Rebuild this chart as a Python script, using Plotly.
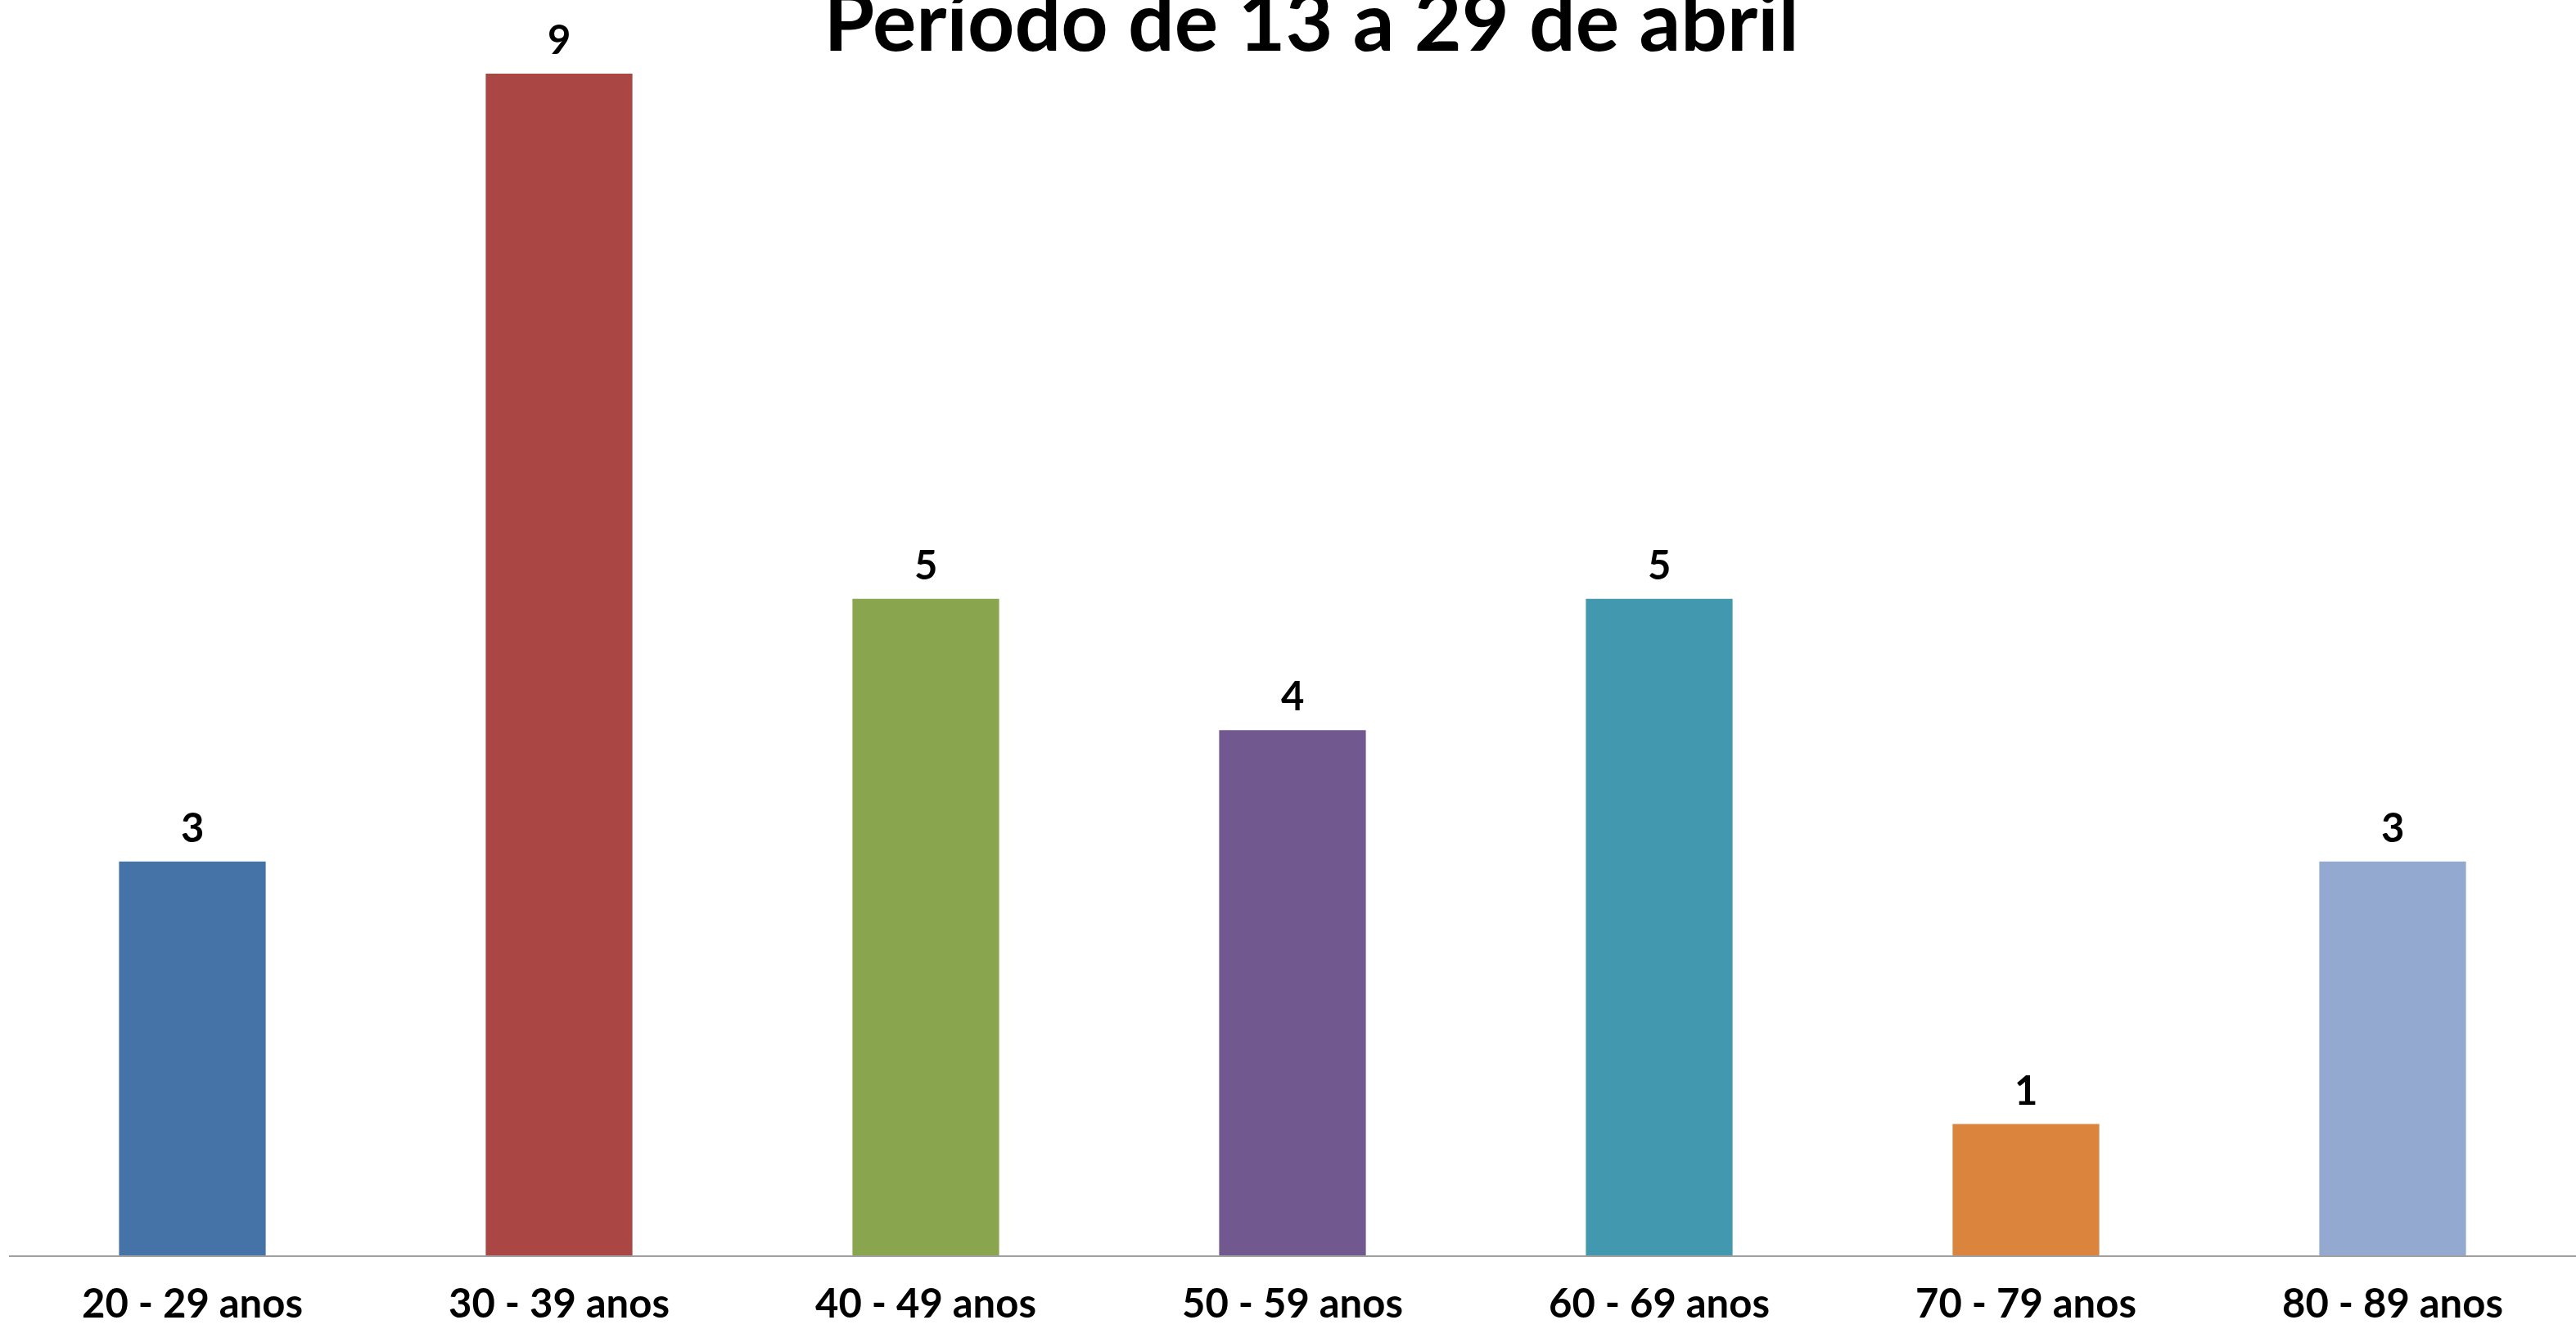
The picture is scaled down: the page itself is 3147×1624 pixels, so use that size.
import plotly.graph_objects as go

categories = ["20 - 29 anos", "30 - 39 anos", "40 - 49 anos", "50 - 59 anos",
              "60 - 69 anos", "70 - 79 anos", "80 - 89 anos"]
values = [3, 9, 5, 4, 5, 1, 3]
title_text = "Período de 13 a 29 de abril"

bar_colors = ["#4572A7", "#AA4643", "#89A54E", "#71588F", "#4198AF", "#DB843D", "#93A9CF"]

W, H = 3147, 1624
FONT = "Lato"

fig = go.Figure()
fig.add_trace(go.Bar(
    x=categories,
    y=values,
    marker=dict(color=bar_colors, line=dict(width=0)),
    hoverinfo="skip",
))

for c, v in zip(categories, values):
    fig.add_annotation(
        x=c, y=v, text=str(v), showarrow=False,
        xref="x", yref="y", yanchor="middle", yshift=43,
        font=dict(family=FONT, size=49, color="black", weight="bold"),
    )

fig.update_layout(
    width=W, height=H,
    margin=dict(l=11, r=0, t=0, b=90, autoexpand=False),
    paper_bgcolor="white", plot_bgcolor="white",
    bargap=0.6,
    showlegend=False,
    title=dict(
        text=title_text,
        x=1602 / W, xref="container", xanchor="center",
        y=1 - 27 / H, yref="container", yanchor="middle",
        font=dict(family=FONT, size=100, color="black", weight="bold"),
    ),
    xaxis=dict(
        type="category",
        automargin=False,
        range=[-0.5, len(categories) - 0.5],
        showline=True, linecolor="#A0A0A0", linewidth=2,
        showgrid=False, zeroline=False, ticks="",
        ticklabelstandoff=15,
        tickfont=dict(family=FONT, size=49, color="black", weight="bold"),
    ),
    yaxis=dict(
        automargin=False,
        range=[0, 9.561],
        visible=False, showgrid=False, zeroline=False,
    ),
)

fig.write_html(
    "out.html",
    config={"displayModeBar": False},
    post_script="document.body.style.margin='0';document.body.style.overflow='hidden';",
)
